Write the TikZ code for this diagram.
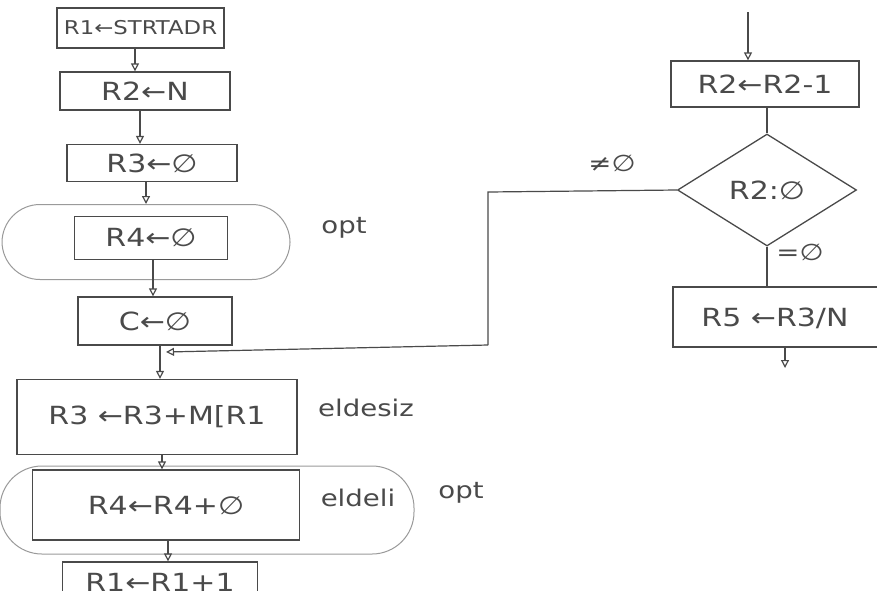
\documentclass[tikz,border=0pt]{standalone}
\usepackage{fontspec}
\setmainfont{DejaVu Sans}[FakeStretch=1.2]
\usetikzlibrary{arrows.meta,shapes.geometric}
\definecolor{ink}{HTML}{4A4A4A}
\definecolor{pale}{HTML}{9A9A9A}
\tikzset{
  every node/.style={text=ink},
  box/.style={draw=ink, line width=1.3pt, inner sep=0pt, fill=none},
  optoval/.style={draw=pale, line width=1pt, rounded corners=38pt, inner sep=0pt},
  flow/.style={draw=ink, line width=1.2pt},
  arr/.style={flow, -{Triangle[open,length=8pt,width=8pt]}},
  lbl/.style={font=\fontsize{23}{25}\selectfont},
  big/.style={font=\fontsize{25}{27}\selectfont},
}
\begin{document}
\begin{tikzpicture}[x=1pt,y=-1pt]
\clip (0,0) rectangle (877,590);
\fill[white] (0,0) rectangle (877,590);
% ovals
\node[optoval, minimum width=288, minimum height=75] (oval1) at (146,242) {};
\node[optoval, minimum width=414, minimum height=88, rounded corners=42pt] (oval2) at (207,510) {};
% left column
\node[box, minimum width=167, minimum height=40, font=\fontsize{19}{21}\selectfont] (b1) at (140.5,28) {R1←STRTADR};
\node[box, minimum width=170, minimum height=38, big] (b2) at (145,91) {R2←N};
\node[box, minimum width=170, minimum height=37, big] (b3) at (152,163) {R3←∅};
\node[box, minimum width=153, minimum height=43, big] (b4) at (151,238) {R4←∅};
\node[lbl] (opt1) at (344,228) {opt};
\node[box, minimum width=154, minimum height=48, big] (b5) at (155,321) {C←∅};
\node[box, minimum width=280, minimum height=75, big] (b6) at (157,417) {R3 ←R3+M[R1};
\node[lbl] (eld1) at (366,408) {eldesiz};
\node[box, minimum width=267, minimum height=70, big] (b7) at (166,505) {R4←R4+∅};
\node[lbl] (eld2) at (358,498) {eldeli};
\node[lbl] (opt2) at (461,493) {opt};
\node[box, minimum width=195, minimum height=40, big] (b8) at (160,582) {R1←R1+1};
% right column
\coordinate (top) at (748,12);
\node[box, minimum width=188, minimum height=46, big] (b9) at (765,84) {R2←R2-1};
\node[draw=ink, line width=1.3pt, diamond, minimum width=179, minimum height=112, inner sep=0pt, big] (d) at (767,190) {R2:∅};
\node[lbl] (ne) at (612,163) {≠∅};
\node[lbl] (eq) at (800,252) {=∅};
\node[box, minimum width=222, minimum height=60] (b10) at (784,317) {};
\node[big] (b10t) at (775,318) {R5 ←R3/N};
\coordinate (out) at (785,368);
\coordinate (c1) at (488,192);
\coordinate (c2) at (488,345);
\coordinate (fb) at (166,352);
% connectors
\draw[arr] (b1.south -| 135,0) -- (b2.north -| 135,0);
\draw[arr] (b2.south -| 140,0) -- (b3.north -| 140,0);
\draw[arr] (b3.south -| 146,0) -- (oval1.north -| 146,0);
\draw[arr] (b4.south -| 153,0) -- (b5.north -| 153,0);
\draw[arr] (b5.south -| 160,0) -- (b6.north -| 160,0);
\draw[arr] (b6.south -| 162,0) -- (b7.north -| 162,0);
\draw[arr] (b7.south -| 168,0) -- (b8.north -| 168,0);
\draw[arr] (top) -- (b9.north -| top);
\draw[flow] (b9.south -| d.north) -- (d.north);
\draw[flow] (d.south) -- (b10.north -| d.south);
\draw[arr] (b10.south -| out) -- (out);
\draw[flow] (d.west) -- (c1) -- (c2);
\draw[arr] (c2) -- (fb);
\end{tikzpicture}
\end{document}
